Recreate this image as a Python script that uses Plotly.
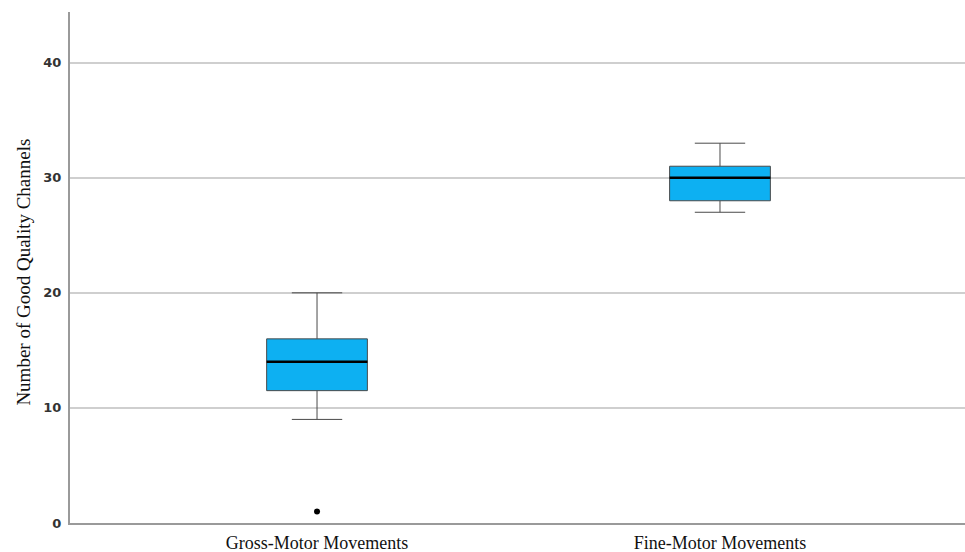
import plotly.graph_objects as go

# Box-plot summary statistics per movement type
categories = ["Gross-Motor Movements", "Fine-Motor Movements"]
lower_whisker = [9, 27]
q1 = [11.5, 28]
median = [14, 30]
q3 = [16, 31]
upper_whisker = [20, 33]
# Outlying observations: (category index, value)
outlier_cat = [0]
outlier_val = [1]
y_ticks = [0, 10, 20, 30, 40]

positions = list(range(len(categories)))
box_w = 0.25
fill = "#0DB0F2"
edge = "#4a4a4a"

fig = go.Figure()

fig.add_trace(go.Box(
    x=positions,
    q1=q1, median=median, q3=q3,
    lowerfence=lower_whisker, upperfence=upper_whisker,
    width=box_w,
    whiskerwidth=0.5,
    fillcolor=fill,
    line=dict(color=edge, width=1),
    boxpoints=False,
    hoverinfo="skip",
    showlegend=False,
))

# thicker median lines
for p, m in zip(positions, median):
    fig.add_trace(go.Scatter(
        x=[p - box_w / 2, p + box_w / 2], y=[m, m],
        mode="lines", line=dict(color="black", width=2.5),
        hoverinfo="skip", showlegend=False,
    ))

fig.add_trace(go.Scatter(
    x=[positions[i] for i in outlier_cat], y=outlier_val,
    mode="markers", marker=dict(color="black", size=6),
    hoverinfo="skip", showlegend=False,
))

fig.update_layout(
    width=965, height=552,
    margin=dict(l=70, r=0, t=12, b=29),
    paper_bgcolor="white", plot_bgcolor="white",
    xaxis=dict(
        range=[-0.613, 1.608],
        tickvals=positions, ticktext=categories,
        showgrid=False, zeroline=False,
        showline=True, linecolor="#9a9a9a", linewidth=2,
        ticks="", ticklabelstandoff=2,
        tickfont=dict(family="Liberation Serif, Times New Roman, serif", size=18, color="#111"),
    ),
    yaxis=dict(
        range=[0, 44.4],
        tickvals=y_ticks,
        showgrid=True, gridcolor="#cfcfcf", gridwidth=1.5,
        zeroline=False,
        showline=True, linecolor="#9a9a9a", linewidth=2,
        ticks="", ticklabelstandoff=4,
        tickfont=dict(family="DejaVu Sans, Verdana, sans-serif", size=13,
                      color="#333", weight="bold"),
    ),
    annotations=[dict(
        text="Number of Good Quality Channels",
        xref="paper", yref="paper",
        x=-46 / 895, y=0.49,
        xanchor="center", yanchor="middle",
        textangle=-90, showarrow=False,
        font=dict(family="Liberation Serif, Times New Roman, serif", size=19, color="#111"),
    )],
)

fig.write_html("out.html")
